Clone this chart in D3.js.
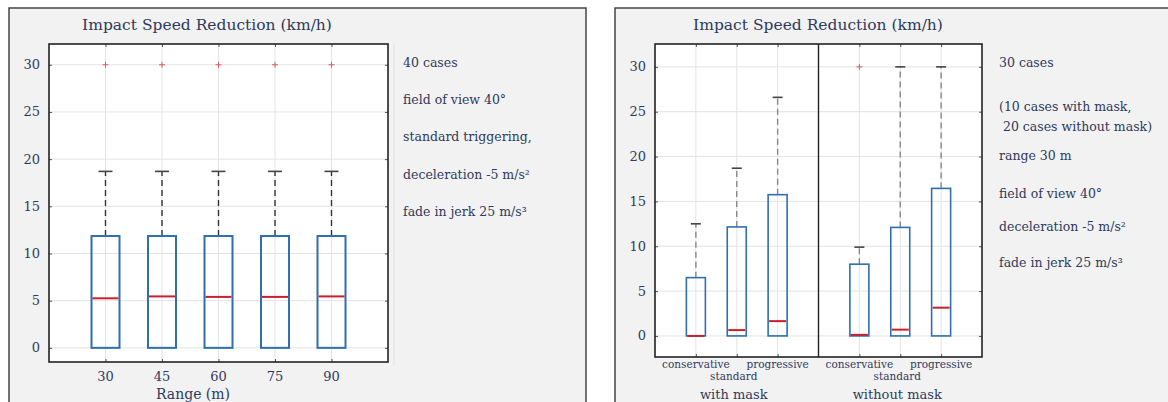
<!DOCTYPE html>
<html><head><meta charset="utf-8">
<script src="https://cdn.jsdelivr.net/npm/d3@7/dist/d3.min.js"></script>
<style>
html,body{margin:0;padding:0;background:#fff;}
svg{display:block;}
text{font-family:"DejaVu Serif","Liberation Serif",serif;fill:#2f3a5c;}
</style></head>
<body>
<svg id="chart" width="1168" height="402"></svg>
<script>
// ---------- data ----------
const yTicks = [0, 5, 10, 15, 20, 25, 30];
const titleText = "Impact Speed Reduction (km/h)";

// left panel: range study
const leftCategories = ["30", "45", "60", "75", "90"];
const leftLowWhisker = [0, 0, 0, 0, 0];
const leftQ1 = [0, 0, 0, 0, 0];
const leftMedian = [5.25, 5.45, 5.4, 5.4, 5.45];
const leftQ3 = [11.85, 11.85, 11.85, 11.85, 11.85];
const leftHighWhisker = [18.7, 18.7, 18.7, 18.7, 18.7];
const leftOutliers = [[30], [30], [30], [30], [30]];
const leftXLabel = "Range (m)";
const leftNotes = ["40 cases", "field of view 40°", "standard triggering,", "deceleration -5 m/s²", "fade in jerk 25 m/s³"];

// right panel: triggering strategy, with/without mask
const rightGroups = ["with mask", "without mask"];
const rightCategories = ["conservative", "standard", "progressive"];
const rightLowWhisker = [0, 0, 0, 0, 0, 0];
const rightQ1 = [0, 0, 0, 0, 0, 0];
const rightMedian = [0, 0.65, 1.65, 0.12, 0.7, 3.15];
const rightQ3 = [6.5, 12.15, 15.75, 8.0, 12.1, 16.45];
const rightHighWhisker = [12.5, 18.7, 26.6, 9.9, 30, 30];
const rightOutliers = [[], [], [], [30], [], []];
const rightNotes = ["30 cases", "(10 cases with mask,", " 20 cases without mask)", "range 30 m", "field of view 40°", "deceleration -5 m/s²", "fade in jerk 25 m/s³"];

// ---------- drawing ----------
const svg = d3.select("#chart");
const BLUE = "#2f6fb0", RED = "#c8202c", GRID = "#e3e3e3";

function panelFrame(x, w) {
  svg.append("rect").attr("x", x).attr("y", 8).attr("width", w).attr("height", 420)
    .attr("fill", "#f2f2f2").attr("stroke", "#444").attr("stroke-width", 1.5);
}

function drawPlot(o) {
  const g = svg.append("g");
  const x = d3.scaleLinear().domain(o.xDomain).range([o.left, o.right]);
  const y = d3.scaleLinear().domain(o.yDomain).range([o.bottom, o.top]);
  g.append("rect").attr("x", o.left).attr("y", o.top).attr("width", o.right - o.left)
    .attr("height", o.bottom - o.top).attr("fill", "#fff");
  // grid
  g.selectAll(".gy").data(yTicks).join("line")
    .attr("x1", o.left).attr("x2", o.right).attr("y1", d => y(d)).attr("y2", d => y(d))
    .attr("stroke", GRID).attr("stroke-width", 1);
  g.selectAll(".gx").data(o.positions).join("line")
    .attr("x1", d => x(d)).attr("x2", d => x(d)).attr("y1", o.top).attr("y2", o.bottom)
    .attr("stroke", GRID).attr("stroke-width", 1);
  // inward ticks via axes
  const ax = [
    d3.axisLeft(y).tickValues(yTicks).tickSize(-3).tickFormat(""),
    d3.axisRight(y).tickValues(yTicks).tickSize(-3).tickFormat("")
  ];
  g.append("g").attr("transform", `translate(${o.left},0)`).call(ax[0]);
  g.append("g").attr("transform", `translate(${o.right},0)`).call(ax[1]);
  g.append("g").attr("transform", `translate(0,${o.bottom})`)
    .call(d3.axisBottom(x).tickValues(o.positions).tickSize(-3).tickFormat(""));
  g.append("g").attr("transform", `translate(0,${o.top})`)
    .call(d3.axisTop(x).tickValues(o.positions).tickSize(-3).tickFormat(""));
  g.selectAll(".domain").remove();
  g.selectAll(".tick line").attr("stroke", "#555");
  // y tick labels
  g.selectAll(".yl").data(yTicks).join("text")
    .attr("x", o.left - 9).attr("y", d => y(d)).attr("dy", "0.35em")
    .attr("text-anchor", "end").attr("font-size", 13).text(d => d);
  // boxes
  const half = o.boxHalf, cap = o.capHalf;
  o.positions.forEach((p, i) => {
    const cx = x(p);
    // upper whisker
    g.append("line").attr("x1", cx).attr("x2", cx).attr("y1", y(o.q3[i])).attr("y2", y(o.hi[i]))
      .attr("stroke", o.whiskerColor).attr("stroke-width", 1.4).attr("stroke-dasharray", "6,4");
    g.append("line").attr("x1", cx - cap).attr("x2", cx + cap).attr("y1", y(o.hi[i])).attr("y2", y(o.hi[i]))
      .attr("stroke", "#444").attr("stroke-width", 1.6);
    if (o.lo[i] < o.q1[i]) {
      g.append("line").attr("x1", cx).attr("x2", cx).attr("y1", y(o.q1[i])).attr("y2", y(o.lo[i]))
        .attr("stroke", o.whiskerColor).attr("stroke-width", 1.4).attr("stroke-dasharray", "6,4");
    }
    g.append("rect").attr("x", cx - half).attr("y", y(o.q3[i])).attr("width", 2 * half)
      .attr("height", y(o.q1[i]) - y(o.q3[i])).attr("fill", "none")
      .attr("stroke", BLUE).attr("stroke-width", o.boxStroke);
    g.append("line").attr("x1", cx - half + 1).attr("x2", cx + half - 1)
      .attr("y1", y(o.med[i])).attr("y2", y(o.med[i]))
      .attr("stroke", RED).attr("stroke-width", 2);
    o.out[i].forEach(v => {
      g.append("path").attr("d", `M${cx - 3},${y(v)}H${cx + 3}M${cx},${y(v) - 3}V${y(v) + 3}`)
        .attr("stroke", "#e05a60").attr("stroke-width", 1);
    });
  });
  // frame
  g.append("rect").attr("x", o.left).attr("y", o.top).attr("width", o.right - o.left)
    .attr("height", o.bottom - o.top).attr("fill", "none").attr("stroke", "#222").attr("stroke-width", 1.6);
  if (o.divider !== undefined) {
    g.append("line").attr("x1", x(o.divider)).attr("x2", x(o.divider)).attr("y1", o.top).attr("y2", o.bottom)
      .attr("stroke", "#222").attr("stroke-width", 1.4);
  }
  return x;
}

// left panel
panelFrame(9, 577);
svg.append("text").attr("x", 207).attr("y", 30).attr("text-anchor", "middle")
  .attr("font-size", 15.5).text(titleText);
svg.append("line").attr("x1", 394).attr("x2", 394).attr("y1", 44).attr("y2", 366)
  .attr("stroke", "#e2e2e2").attr("stroke-width", 1);
const leftPos = leftCategories.map((d, i) => i + 1);
const xl = drawPlot({
  left: 49, right: 388, top: 44, bottom: 362,
  xDomain: [0, 6], yDomain: [-1.5, 32.2], positions: leftPos,
  lo: leftLowWhisker, q1: leftQ1, med: leftMedian, q3: leftQ3, hi: leftHighWhisker, out: leftOutliers,
  boxHalf: 14, capHalf: 7, boxStroke: 2, whiskerColor: "#333"
});
svg.selectAll(".lx").data(leftCategories).join("text")
  .attr("x", (d, i) => xl(leftPos[i])).attr("y", 381).attr("text-anchor", "middle")
  .attr("font-size", 13).text(d => d);
svg.append("text").attr("x", 193).attr("y", 399).attr("text-anchor", "middle")
  .attr("font-size", 14).text(leftXLabel);
svg.selectAll(".ln").data(leftNotes).join("text")
  .attr("x", 403).attr("y", (d, i) => 67 + i * 37.2).attr("font-size", 12.5).text(d => d);

// right panel
panelFrame(615, 600);
svg.append("text").attr("x", 818).attr("y", 30).attr("text-anchor", "middle")
  .attr("font-size", 15.5).text(titleText);
const rightPos = [1, 2, 3, 5, 6, 7];
const xr = drawPlot({
  left: 655, right: 982, top: 44, bottom: 357,
  xDomain: [0, 8], yDomain: [-2.35, 32.55], positions: rightPos, divider: 4,
  lo: rightLowWhisker, q1: rightQ1, med: rightMedian, q3: rightQ3, hi: rightHighWhisker, out: rightOutliers,
  boxHalf: 9.5, capHalf: 5, boxStroke: 1.6, whiskerColor: "#888"
});
rightPos.forEach((p, i) => {
  const c = i % 3;
  svg.append("text").attr("x", xr(p) - (c === 1 ? 3 : 0)).attr("y", c === 1 ? 380 : 368)
    .attr("text-anchor", "middle").attr("font-size", 10.5).text(rightCategories[c]);
});
rightGroups.forEach((gname, j) => {
  svg.append("text").attr("x", xr(2 + 4 * j) - 3).attr("y", 399).attr("text-anchor", "middle")
    .attr("font-size", 13).text(gname);
});
const rightNoteY = [67, 111, 131, 160, 198, 231, 267];
svg.selectAll(".rn").data(rightNotes).join("text")
  .attr("x", 999).attr("y", (d, i) => rightNoteY[i]).attr("font-size", 12.5)
  .attr("xml:space", "preserve").style("white-space", "pre").text(d => d);
</script>
</body></html>
